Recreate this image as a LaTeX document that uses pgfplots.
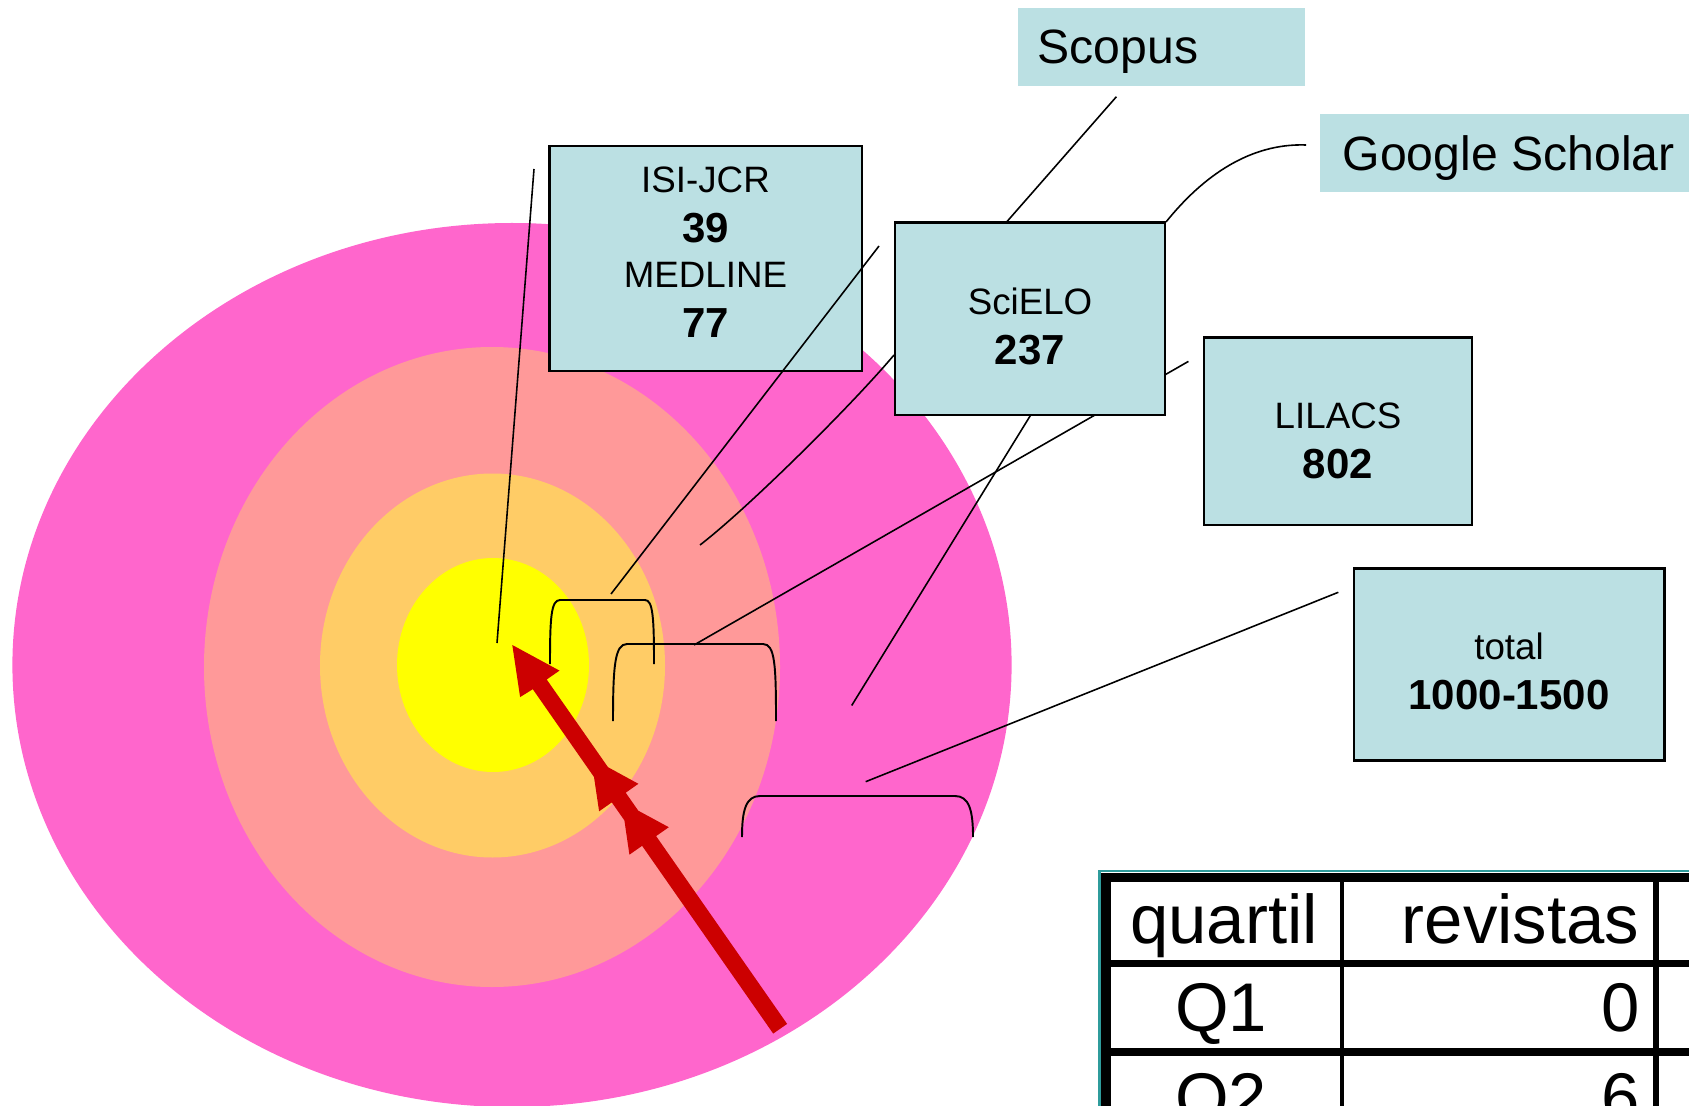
\documentclass[border=0pt]{standalone}
\usepackage{pgfplots}
\pgfplotsset{compat=1.18}
\usepackage{fontspec}
\setmainfont{Liberation Sans}
\definecolor{pinkc}{HTML}{FF66CC}
\definecolor{salmonc}{HTML}{FF9999}
\definecolor{orangec}{HTML}{FFCC66}
\definecolor{yellowc}{HTML}{FFFF00}
\definecolor{boxc}{HTML}{BBE0E3}
\definecolor{redc}{HTML}{CC0000}
\definecolor{tealc}{HTML}{2F9C9C}
\newcommand{\labf}{\fontsize{10.45}{12}\selectfont}
\newcommand{\numf}{\fontsize{11.95}{14}\selectfont\bfseries}
\newcommand{\bigf}{\fontsize{13.7}{16}\selectfont}
\newcommand{\tabf}{\fontsize{19.6}{23}\selectfont}
\begin{document}
\begin{tikzpicture}
\useasboundingbox (0,0) rectangle (16.89cm,11.06cm);
\clip (0,0) rectangle (16.89cm,11.06cm);
\begin{axis}[at={(0,0)}, anchor=south west, width=16.89cm, height=11.06cm,
  scale only axis, xmin=0, xmax=1689, ymin=0, ymax=1106, y dir=reverse,
  hide axis, clip=false]
% target rings
\fill[pinkc] (axis cs:512,665) ellipse [x radius=49.96mm, y radius=44.2mm];
\fill[salmonc] (axis cs:492,667) ellipse [x radius=28.8mm, y radius=32.0mm];
\fill[orangec] (axis cs:492.5,665.5) ellipse [x radius=17.25mm, y radius=19.2mm];
\fill[yellowc] (axis cs:493,665) ellipse [x radius=9.6mm, y radius=10.7mm];
% connector lines (behind boxes)
\addplot[black, line width=0.45pt] coordinates {(534,169) (497,643)};
\draw[black, line width=0.45pt] (axis cs:894,355) .. controls (axis cs:852,405) and (axis cs:748,508) .. (axis cs:700,545);
\addplot[black, line width=0.45pt] coordinates {(1116.4,96.7) (1006.6,222)};
\addplot[black, line width=0.45pt] coordinates {(1030.7,415) (851.7,705.5)};
\draw[black, line width=0.45pt] (axis cs:1306,145) .. controls (axis cs:1250,143) and (axis cs:1203,176) .. (axis cs:1166,222);
\addplot[black, line width=0.45pt] coordinates {(1188.4,361.4) (694,645)};
\addplot[black, line width=0.45pt] coordinates {(1338.3,592.3) (865.7,781.7)};
% brackets
\draw[black, line width=0.55pt] (axis cs:550,664) .. controls (axis cs:550,618) and (axis cs:551,600) .. (axis cs:560,600) -- (axis cs:645,600) .. controls (axis cs:653,600) and (axis cs:654,618) .. (axis cs:654,664);
\draw[black, line width=0.55pt] (axis cs:613,721) .. controls (axis cs:613,665) and (axis cs:615,644) .. (axis cs:627,644) -- (axis cs:763,644) .. controls (axis cs:775,644) and (axis cs:776,665) .. (axis cs:776,721);
\draw[black, line width=0.55pt] (axis cs:742,837) .. controls (axis cs:742,810) and (axis cs:746,796) .. (axis cs:760,796) -- (axis cs:955,796) .. controls (axis cs:969,796) and (axis cs:973,810) .. (axis cs:973,837);
% red arrow
\addplot[fill=redc, draw=none] coordinates {(512.3,645) (559.5,670.6) (546.7,679.5) (608.0,767.2) (638.4,783.8) (625.7,792.7) (638.3,810.7) (668.8,827.2) (656.1,836.1) (787.1,1023.9) (773.2,1033.6) (642.1,845.8) (629.4,854.7) (624.4,820.4) (611.8,802.4) (599.1,811.3) (594.0,777.0) (532.8,689.2) (520.1,697.1)} -- cycle;
% boxes
\addplot[fill=boxc, draw=none] coordinates {(1017.6,8.3) (1305,8.3) (1305,85.7) (1017.6,85.7)} -- cycle;
\addplot[fill=boxc, draw=none] coordinates {(1320,114) (1700,114) (1700,192) (1320,192)} -- cycle;
\addplot[fill=boxc, draw=black, line width=0.6pt] coordinates {(549.5,145.7) (861.6,145.7) (861.6,371.4) (549.5,371.4)} -- cycle;
\addplot[fill=boxc, draw=black, line width=0.6pt] coordinates {(895,222.5) (1165,222.5) (1165,415.4) (895,415.4)} -- cycle;
\addplot[fill=boxc, draw=black, line width=0.6pt] coordinates {(1203.6,337.5) (1472,337.5) (1472,525) (1203.6,525)} -- cycle;
\addplot[fill=boxc, draw=black, line width=0.6pt] coordinates {(1353.8,568.5) (1664.5,568.5) (1664.5,760.5) (1353.8,760.5)} -- cycle;
% line drawn over the ISI-JCR box
\addplot[black, line width=0.45pt] coordinates {(879,246) (611,594)};
% box texts
\node[anchor=base west, inner sep=0pt, font=\bigf] at (axis cs:1037,64) {Scopus};
\node[anchor=base west, inner sep=0pt, font=\bigf] at (axis cs:1342,171) {Google Scholar};
\node[anchor=base, inner sep=0pt, font=\labf] at (axis cs:705.5,192.9) {ISI-JCR};
\node[anchor=base, inner sep=0pt, font=\numf] at (axis cs:705.5,242.9) {39};
\node[anchor=base, inner sep=0pt, font=\labf] at (axis cs:705.5,287.5) {MEDLINE};
\node[anchor=base, inner sep=0pt, font=\numf] at (axis cs:705.5,337.5) {77};
\node[anchor=base, inner sep=0pt, font=\labf] at (axis cs:1030,314.3) {SciELO};
\node[anchor=base, inner sep=0pt, font=\numf] at (axis cs:1030,364.3) {237};
\node[anchor=base, inner sep=0pt, font=\labf] at (axis cs:1338,428.6) {LILACS};
\node[anchor=base, inner sep=0pt, font=\numf] at (axis cs:1338,478.6) {802};
\node[anchor=base, inner sep=0pt, font=\labf] at (axis cs:1509,659) {total};
\node[anchor=base, inner sep=0pt, font=\numf] at (axis cs:1509,709.7) {1000-1500};
% table
\addplot[tealc, line width=0.6pt] coordinates {(1099.5,1110) (1099.5,871) (1700,871)};
\addplot[black, line width=2.85pt] coordinates {(1106,1110) (1106,877.5)};
\addplot[black, line width=2.5pt] coordinates {(1101,877.5) (1700,877.5)};
\addplot[black, line width=1.1pt] coordinates {(1342,877) (1342,1110)};
\addplot[black, line width=1.65pt] coordinates {(1656,877) (1656,1110)};
\addplot[black, line width=2.05pt] coordinates {(1106,963.5) (1700,963.5)};
\addplot[black, line width=2.1pt] coordinates {(1106,1052) (1700,1052)};
\node[anchor=base, inner sep=0pt, font=\tabf] at (axis cs:1224,943.3) {quartil};
\node[anchor=base east, inner sep=0pt, font=\tabf] at (axis cs:1640,943.3) {revistas};
\node[anchor=base, inner sep=0pt, font=\tabf] at (axis cs:1221,1031.7) {Q1};
\node[anchor=base east, inner sep=0pt, font=\tabf] at (axis cs:1640,1031.7) {0};
\node[anchor=base, inner sep=0pt, font=\tabf] at (axis cs:1221,1121) {Q2};
\node[anchor=base east, inner sep=0pt, font=\tabf] at (axis cs:1640,1121) {6};
\end{axis}
\end{tikzpicture}
\end{document}
